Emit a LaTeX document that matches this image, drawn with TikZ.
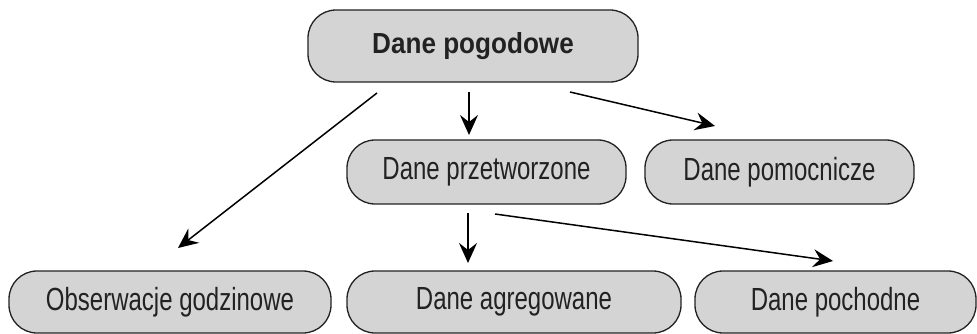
\documentclass[tikz,border=0pt]{standalone}
\usepackage{fontspec}
\setmainfont{Liberation Sans}
\newfontfamily\narrowfont[FakeStretch=0.75]{Liberation Sans}
\newfontfamily\boldfont[FakeStretch=0.9]{Liberation Sans}
\usetikzlibrary{arrows.meta}
\definecolor{boxfill}{HTML}{D4D4D4}
\definecolor{inkc}{HTML}{222222}
\tikzset{
  box/.style={draw=inkc, line width=1.3pt, fill=boxfill, rounded corners=28pt,
    inner sep=0pt, text=inkc, font=\narrowfont\fontsize{32}{35}\selectfont},
  topbox/.style={box, font=\boldfont\bfseries\fontsize{29}{33}\selectfont},
  link/.style={draw=black, line width=1.5pt,
    -{Stealth[length=20pt,width=18pt,inset=7pt]}}
}
\begin{document}
\begin{tikzpicture}[x=1pt,y=-1pt]
\useasboundingbox (0,0) rectangle (977,334);
\node[topbox, minimum width=330pt, minimum height=72pt] (root) at (473,46) {Dane pogodowe};
\node[box, minimum width=279pt, minimum height=64pt] (proc) at (486.5,172) {Dane przetworzone};
\node[box, minimum width=269pt, minimum height=64pt] (aux) at (779.5,172) {Dane pomocnicze};
\node[box, minimum width=322pt, minimum height=62pt] (obs) at (170,302) {Obserwacje godzinowe};
\node[box, minimum width=334pt, minimum height=62pt] (agg) at (514,302) {Dane agregowane};
\node[box, minimum width=281pt, minimum height=62pt] (der) at (835.5,302) {Dane pochodne};
\coordinate (a1s) at (377,93);
\coordinate (a1e) at (178,248);
\coordinate (a2s) at (469,92);
\coordinate (a2e) at (469,135);
\coordinate (a3s) at (570,92);
\coordinate (a3e) at (715,126);
\coordinate (a4s) at (468,213);
\coordinate (a4e) at (468,263);
\coordinate (a5s) at (495,214);
\coordinate (a5e) at (833,261);
\draw[link] (a1s) -- (a1e);
\draw[link] (a2s) -- (a2e);
\draw[link] (a3s) -- (a3e);
\draw[link] (a4s) -- (a4e);
\draw[link] (a5s) -- (a5e);
\end{tikzpicture}
\end{document}
